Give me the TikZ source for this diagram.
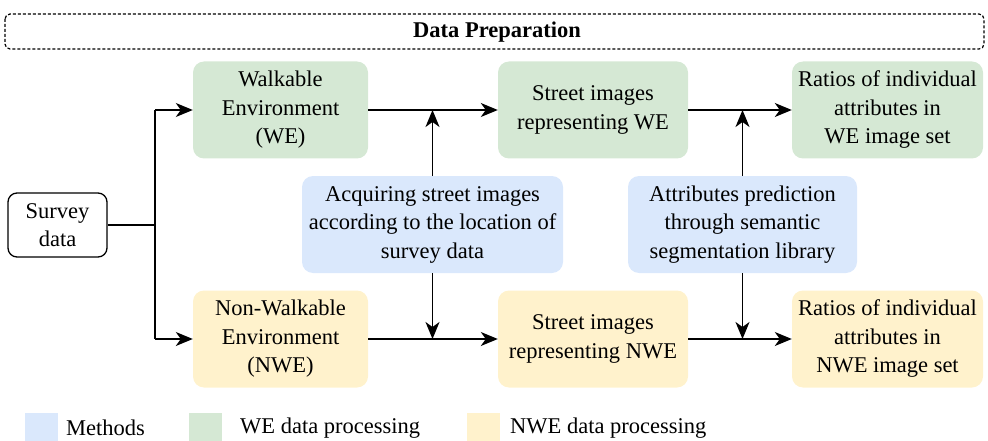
\documentclass[tikz,border=0pt]{standalone}
\usepackage{fontspec}
\setmainfont{Liberation Serif}
\usetikzlibrary{arrows.meta}
\definecolor{wegreen}{HTML}{D5E8D4}
\definecolor{nweyellow}{HTML}{FFF2CC}
\definecolor{methblue}{HTML}{DAE8FC}
\begin{document}
\begin{tikzpicture}[x=1pt,y=-1pt,
  every node/.style={font=\fontsize{22.5}{28.5}\selectfont, align=center, inner sep=0pt},
  box/.style={rounded corners=11pt, minimum height=97pt, draw=none},
  webox/.style={box, fill=wegreen},
  nwebox/.style={box, fill=nweyellow},
  methbox/.style={box, fill=methblue},
  conn/.style={line width=1.5pt, draw=black},
  arr/.style={conn, -{Stealth[length=17pt,width=14pt,inset=5pt]}},
  legsq/.style={minimum width=33pt, minimum height=28pt, anchor=north west}]
\useasboundingbox (0,0) rectangle (988,441);

% header
\draw[line width=1.2pt, dash pattern=on 3pt off 2pt, rounded corners=5pt] (5,14) rectangle (984,49);
\node[font=\fontsize{22.5}{27}\selectfont\bfseries] (title) at (497,32) {Data Preparation};

% nodes
\node[draw=black, line width=1.3pt, rounded corners=9pt, fill=white, minimum width=99pt, minimum height=64pt] (survey) at (57.5,225) {Survey\\data};

\node[webox, minimum width=175pt] (we) at (280.5,110) {Walkable\\Environment\\(WE)};
\node[webox, minimum width=190pt] (swe) at (593,110) {Street images\\representing WE};
\node[webox, minimum width=191pt] (rwe) at (887.5,110) {Ratios of individual\\attributes in\\WE image set};

\node[methbox, minimum width=261pt] (acq) at (432.5,224.5) {Acquiring street images\\according to the location of\\survey data};
\node[methbox, minimum width=229pt] (att) at (742.5,224.5) {Attributes prediction\\through semantic\\segmentation library};

\node[nwebox, minimum width=175pt] (nwe) at (280.5,339) {Non-Walkable\\Environment\\(NWE)};
\node[nwebox, minimum width=190pt] (snwe) at (593,339) {Street images\\representing NWE};
\node[nwebox, minimum width=191pt] (rnwe) at (887.5,339) {Ratios of individual\\attributes in\\NWE image set};

% junction coordinates
\coordinate (j) at (155,225);
\coordinate (jt) at (155,110);
\coordinate (jb) at (155,339);
\coordinate (ja) at (acq.center |- we.east);
\coordinate (jab) at (acq.center |- nwe.east);
\coordinate (jt2) at (att.center |- swe.east);
\coordinate (jb2) at (att.center |- snwe.east);

% connectors
\draw[conn] (survey.east) -- (j);
\draw[conn] (jt) -- (jb);
\draw[arr] (jt) -- (we.west);
\draw[arr] (jb) -- (nwe.west);
\draw[arr] (we.east) -- (swe.west);
\draw[arr] (nwe.east) -- (snwe.west);
\draw[arr] (acq.north) -- (ja);
\draw[arr] (acq.south) -- (jab);
\draw[arr] (swe.east) -- (rwe.west);
\draw[arr] (snwe.east) -- (rnwe.west);
\draw[arr] (att.north) -- (jt2);
\draw[arr] (att.south) -- (jb2);

% legend
\node[legsq, fill=methblue] (lm) at (25,413) {};
\node[anchor=west] (lmt) at (66,428) {Methods};
\node[legsq, fill=wegreen] (lw) at (189,413) {};
\node[anchor=west] (lwt) at (240,428) {WE data processing};
\node[legsq, fill=nweyellow] (ln) at (467,413) {};
\node[anchor=west] (lnt) at (510,428) {NWE data processing};
\end{tikzpicture}
\end{document}
